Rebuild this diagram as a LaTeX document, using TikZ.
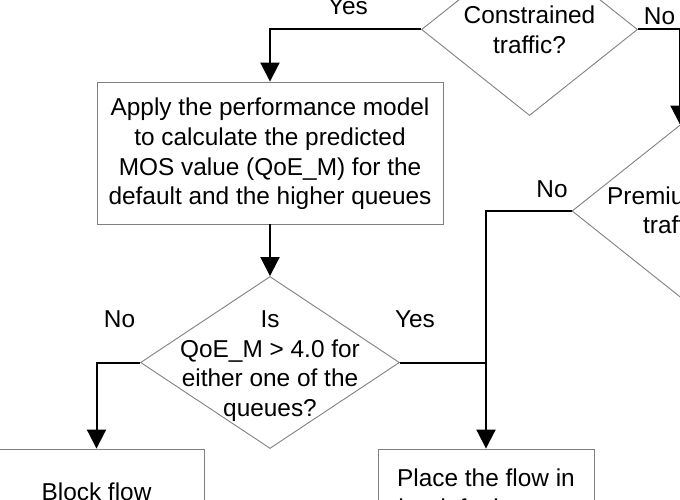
\documentclass[tikz,border=0pt]{standalone}
\usepackage{fontspec}
\setmainfont{Liberation Sans}
\usetikzlibrary{shapes.geometric,arrows.meta}
\begin{document}
\begin{tikzpicture}[x=1pt,y=-1pt,
  txt/.style={font=\fontsize{24.4}{29.7}\selectfont, inner sep=0pt, align=center},
  procbox/.style={draw=black!50, line width=0.9pt, rectangle, inner sep=0pt},
  decision/.style={draw=black!50, line width=0.9pt, diamond, inner sep=0pt, minimum width=216pt, minimum height=172pt},
  conn/.style={line width=2pt, black},
  arr/.style={conn, -{Triangle[width=19pt,length=19pt]}},
]
\useasboundingbox (0,0) rectangle (680,500);
\clip (0,0) rectangle (680,500);

% decisions
\node[decision] (c1) at (529.5,29.5) {};
\node[txt] (c1t) at (c1.center) {Constrained\\traffic?};
\node[decision] (p) at (680,211) {};
\node[txt, anchor=base west] (pt1) at (607,204.5) {Premium};
\node[txt, anchor=base west] (pt2) at (643,233.5) {traffic?};
\node[decision, minimum width=259pt] (q) at (270,362.5) {};
\node[txt] (qt) at (270,366) {Is\\QoE\_M > 4.0 for\\either one of the\\queues?};

% process boxes
\node[procbox, minimum width=346pt, minimum height=142pt] (a) at (270,153) {};
\node[txt] (at) at (270,154) {Apply the performance model\\to calculate the predicted\\MOS value (QoE\_M) for the\\default and the higher queues};
\node[procbox, minimum width=215pt, minimum height=88pt] (b) at (96.5,493) {};
\node[txt, anchor=base] (bt) at (96.5,500) {Block flow};
\node[procbox, minimum width=216pt, minimum height=110pt] (pl) at (486,504) {};
\node[txt, anchor=north] (plt) at (486,469) {Place the flow in\\the default queue};

% labels
\node[txt, anchor=base] (yes1) at (348,15) {Yes};
\node[txt, anchor=base] (no1) at (659.5,25) {No};
\node[txt, anchor=base] (no2) at (552,197) {No};
\node[txt, anchor=base] (no3) at (119.5,327) {No};
\node[txt, anchor=base] (yes2) at (415,327) {Yes};

% connectors
\draw[arr] (c1.west) -| (a.north);
\draw[arr] (c1.east) -| (p.north);
\draw[arr] (p.west) -| (pl.north);
\draw[arr] (a.south) -- (q.north);
\draw[arr] (q.west) -| (b.north);
\draw[conn] (q.east) -- (q.east -| pl.north);
\end{tikzpicture}
\end{document}
